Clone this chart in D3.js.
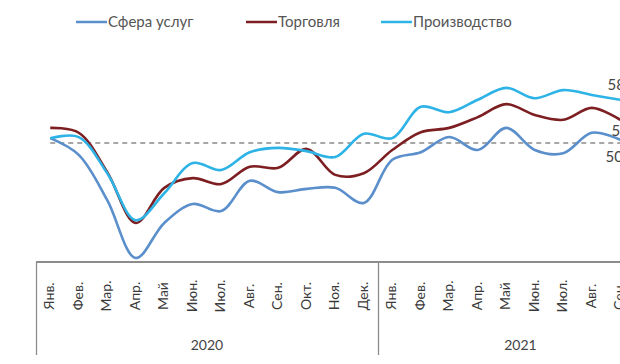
<!DOCTYPE html>
<html><head><meta charset="utf-8">
<script src="https://cdn.jsdelivr.net/npm/d3@7"></script>
<style>body{margin:0;background:#fff;overflow:hidden}svg{display:block}</style>
</head><body><svg id="c" width="620" height="364"></svg>
<script>
const months2020 = ["Янв.","Фев.","Мар.","Апр.","Май","Июн.","Июл.","Авг.","Сен.","Окт.","Ноя.","Дек."];
const months2021 = ["Янв.","Фев.","Мар.","Апр.","Май","Июн.","Июл.","Авг.","Сен.","Окт."];
const years = ["2020","2021"];
const services   = [50.9,47.8,39.4,28.7,35.2,38.7,37.4,43.0,40.9,41.5,41.7,38.9,46.9,48.3,51.1,48.7,52.8,48.7,48.1,51.9,50.6];
const trade      = [52.8,51.9,44.6,35.2,41.7,43.5,42.4,45.6,45.4,48.9,44.1,44.4,48.7,52.0,52.8,54.8,57.2,55.2,54.3,56.5,54.3];
const production = [50.9,51.1,44.4,35.7,40.7,46.3,45.0,48.3,49.1,48.5,47.4,51.7,50.9,56.7,55.7,58.0,60.2,58.3,59.8,58.9,58.0];
const seriesNames = ["Сфера услуг","Торговля","Производство"];
const colors = ["#5a8fcb","#7d1f22","#2db3e6"];
const threshold = 50;

const svg = d3.select("#c");
const slots = months2020.length + months2021.length;
const x = d3.scaleBand().domain(d3.range(slots)).range([36, 36 + slots*28.5]);
const cx = i => x(i) + x.bandwidth()/2;
const y = d3.scaleLinear().domain([25,65]).range([278,62]);

// legend
const legX = [76, 246, 381];
seriesNames.forEach((n,i)=>{
  const g = svg.append("g");
  g.append("line").attr("x1",legX[i]).attr("x2",legX[i]+31).attr("y1",22).attr("y2",22)
    .attr("stroke",colors[i]).attr("stroke-width",2.5);
  g.append("text").attr("x",legX[i]+32).attr("y",27).text(n)
    .attr("font-family","Lato, sans-serif").attr("font-size",15).attr("fill","#555");
});

// threshold dashed line
svg.append("line").attr("x1",cx(0)).attr("x2",620).attr("y1",y(threshold)).attr("y2",y(threshold))
  .attr("stroke","#8a8a8a").attr("stroke-width",1.5).attr("stroke-dasharray","5,4");

// lines
const line = d3.line().x((d,i)=>cx(i)).y(d=>y(d)).curve(d3.curveCatmullRom.alpha(0.5));
[services, trade, production].forEach((s,i)=>{
  svg.append("path").datum(s).attr("d",line).attr("fill","none")
    .attr("stroke",colors[i]).attr("stroke-width",2.6).attr("stroke-linejoin","round");
});

// end labels
const fmt = v => d3.format(".1f")(v).replace(".",",");
const last = production.length-1;
[[production,-10,2],[trade,16,6],[services,22,0]].forEach(([s,dy,dx])=>{
  svg.append("text").attr("x",cx(last)+dx).attr("y",y(s[last])+dy).attr("text-anchor","middle")
    .attr("font-family","Lato, sans-serif").attr("font-size",15).attr("fill","#444").text(fmt(s[last]));
});

// axis frame
const axTop = 262, axBot = 355;
svg.append("line").attr("x1",36).attr("x2",620).attr("y1",axTop).attr("y2",axTop)
  .attr("stroke","#8c8c8c").attr("stroke-width",2);
[x(0), x(months2020.length)].forEach(xx=>{
  svg.append("line").attr("x1",xx+0.5).attr("x2",xx+0.5).attr("y1",axTop).attr("y2",axBot)
    .attr("stroke","#8c8c8c").attr("stroke-width",1.3);
});

// month labels
const allMonths = months2020.concat(months2021);
allMonths.forEach((m,i)=>{
  svg.append("text").attr("transform",`translate(${cx(i)+4},296) rotate(-90)`)
    .attr("text-anchor","middle").attr("font-family","Lato, sans-serif").attr("font-size",14)
    .attr("fill","#3a3a3a").text(m);
});

// year labels
const yStart = [0, months2020.length], yEnd = [months2020.length, slots];
years.forEach((yr,i)=>{
  const mid = (x(yStart[i]) + x(yEnd[i]-1) + x.bandwidth())/2;
  svg.append("text").attr("x",mid).attr("y",350).attr("text-anchor","middle")
    .attr("font-family","Lato, sans-serif").attr("font-size",14).attr("fill","#444").text(yr);
});
</script></body></html>
